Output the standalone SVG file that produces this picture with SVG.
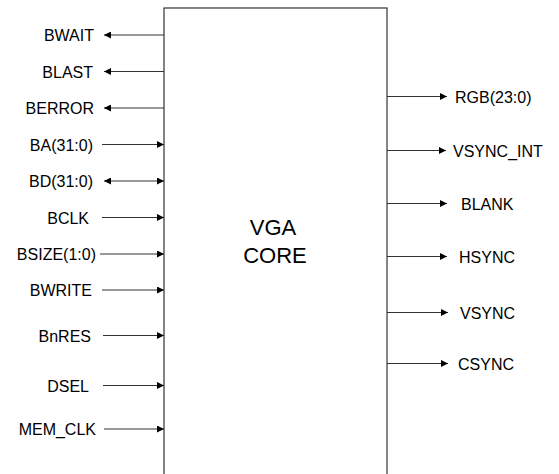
<svg xmlns="http://www.w3.org/2000/svg" width="559" height="474" viewBox="0 0 559 474">
<style>
text{font-family:"Liberation Sans",Arial,sans-serif;font-size:16px;fill:#000}
.l{text-anchor:end}
.w{stroke:#333;stroke-width:1;fill:none}
.box{fill:#fff;stroke:#333;stroke-width:1.2}
</style>
<defs>
<marker id="ah" viewBox="0 0 10 10" refX="10" refY="5" markerWidth="9" markerHeight="7" markerUnits="userSpaceOnUse" orient="auto-start-reverse">
<path d="M0,0 L10,5 L0,10 z" fill="#000"/>
</marker>
</defs>
<rect width="559" height="474" fill="#fff"/>
<g id="core">
<rect class="box" x="164" y="8" width="223" height="480"/>
<text x="273" y="235" style="font-size:22px;text-anchor:middle">VGA</text>
<text x="275" y="263" style="font-size:22px;text-anchor:middle">CORE</text>
</g>
<g id="connectors">
<line class="w" x1="164" y1="35" x2="104" y2="35" marker-end="url(#ah)"/>
<line class="w" x1="164" y1="71.5" x2="104" y2="71.5" marker-end="url(#ah)"/>
<line class="w" x1="164" y1="108" x2="104" y2="108" marker-end="url(#ah)"/>
<line class="w" x1="102" y1="144.5" x2="164" y2="144.5" marker-end="url(#ah)"/>
<line class="w" x1="104" y1="181" x2="164" y2="181" marker-start="url(#ah)" marker-end="url(#ah)"/>
<line class="w" x1="102" y1="217.5" x2="164" y2="217.5" marker-end="url(#ah)"/>
<line class="w" x1="100" y1="254" x2="164" y2="254" marker-end="url(#ah)"/>
<line class="w" x1="102" y1="290" x2="164" y2="290" marker-end="url(#ah)"/>
<line class="w" x1="103" y1="335.5" x2="164" y2="335.5" marker-end="url(#ah)"/>
<line class="w" x1="103" y1="385.5" x2="164" y2="385.5" marker-end="url(#ah)"/>
<line class="w" x1="104" y1="429" x2="164" y2="429" marker-end="url(#ah)"/>
<line class="w" x1="387" y1="96.5" x2="447" y2="96.5" marker-end="url(#ah)"/>
<line class="w" x1="387" y1="150.5" x2="446" y2="150.5" marker-end="url(#ah)"/>
<line class="w" x1="387" y1="203.5" x2="447" y2="203.5" marker-end="url(#ah)"/>
<line class="w" x1="387" y1="256.5" x2="447" y2="256.5" marker-end="url(#ah)"/>
<line class="w" x1="387" y1="312.5" x2="448" y2="312.5" marker-end="url(#ah)"/>
<line class="w" x1="387" y1="363.5" x2="448" y2="363.5" marker-end="url(#ah)"/>
</g>
<g id="labels-left">
<text class="l" x="94" y="41">BWAIT</text>
<text class="l" x="93" y="77.5">BLAST</text>
<text class="l" x="94" y="114">BERROR</text>
<text class="l" x="93" y="150.5">BA(31:0)</text>
<text class="l" x="93" y="187">BD(31:0)</text>
<text class="l" x="89" y="223.5">BCLK</text>
<text class="l" x="96" y="260">BSIZE(1:0)</text>
<text class="l" x="92" y="296">BWRITE</text>
<text class="l" x="91" y="341.5">BnRES</text>
<text class="l" x="89" y="391.5">DSEL</text>
<text class="l" x="96" y="435">MEM_CLK</text>
</g>
<g id="labels-right">
<text x="455" y="102.5">RGB(23:0)</text>
<text x="453" y="156.5">VSYNC_INT</text>
<text x="461" y="209.5">BLANK</text>
<text x="459" y="262.5">HSYNC</text>
<text x="460" y="318.5">VSYNC</text>
<text x="458" y="369.5">CSYNC</text>
</g>
</svg>
